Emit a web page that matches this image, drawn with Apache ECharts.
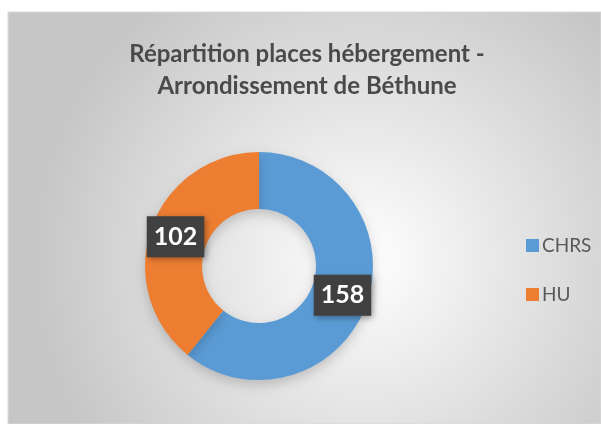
<!DOCTYPE html>
<html>
<head>
<meta charset="utf-8">
<script src="https://cdn.jsdelivr.net/npm/echarts@6/dist/echarts.min.js"></script>
<style>
  html, body { margin: 0; padding: 0; background: #fff; }
  #main { width: 601px; height: 424px; }
</style>
</head>
<body>
<div id="main"></div>
<script>
// données
const categories = ['CHRS', 'HU'];
const values = [158, 102];
const colors = ['#5B9BD5', '#ED7D31'];

const myChart = echarts.init(document.getElementById('main'));

const option = {
  animation: false,
  color: colors,
  graphic: [{
    type: 'rect',
    z: -10,
    silent: true,
    shape: { x: 8, y: 12, width: 593, height: 412 },
    style: {
      fill: new echarts.graphic.RadialGradient(0.6, 0.6, 0.8, [
        { offset: 0, color: '#ffffff' },
        { offset: 1, color: '#c6c6c6' }
      ]),
      stroke: '#d9d9d9',
      lineWidth: 1
    }
  }],
  title: {
    text: 'Répartition places hébergement -\nArrondissement de Béthune',
    left: 302,
    top: 33,
    textAlign: 'center',
    textStyle: {
      fontFamily: 'Lato',
      fontSize: 24,
      fontWeight: 'bold',
      color: '#4a4a4a',
      lineHeight: 32
    }
  },
  legend: {
    orient: 'vertical',
    left: 521,
    top: 231,
    itemWidth: 13,
    itemHeight: 13,
    itemGap: 30,
    icon: 'rect',
    data: categories,
    textStyle: {
      fontFamily: 'Lato',
      fontSize: 19,
      color: '#595959',
      padding: [0, 0, 0, -2]
    }
  },
  series: [{
    type: 'pie',
    center: [259, 266],
    radius: [57, 114],
    startAngle: 90,
    clockwise: true,
    avoidLabelOverlap: false,
    itemStyle: {
      shadowBlur: 12,
      shadowColor: 'rgba(0,0,0,0.18)',
      shadowOffsetY: 5
    },
    label: {
      show: true,
      position: 'inside',
      formatter: '{c}',
      fontFamily: 'Lato',
      fontSize: 25,
      fontWeight: 'bold',
      color: '#ffffff',
      backgroundColor: '#404040',
      padding: [9, 7, 7, 7],
      shadowBlur: 6,
      shadowColor: 'rgba(0,0,0,0.35)',
      shadowOffsetX: 2,
      shadowOffsetY: 2
    },
    labelLine: { show: false },
    emphasis: { disabled: true },
    data: categories.map((name, i) => ({ name: name, value: values[i] }))
  }]
};

myChart.setOption(option);
</script>
</body>
</html>
